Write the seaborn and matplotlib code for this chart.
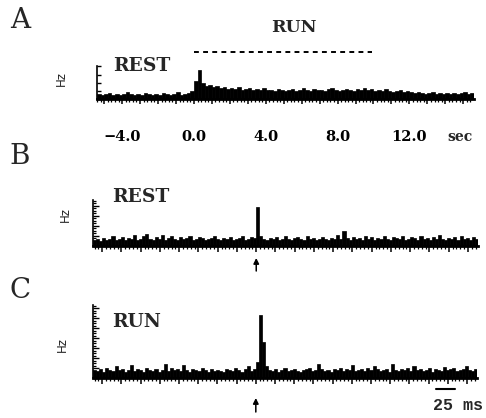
import numpy as np
import pandas as pd
import matplotlib
matplotlib.use("Agg")
import matplotlib.pyplot as plt
import seaborn as sns

# ---------------- data ----------------
panel_letters = ["A", "B", "C"]
cond_labels = ["REST", "REST", "RUN"]
run_label = "RUN"
a_tick_values = [-4.0, 0.0, 4.0, 8.0, 12.0]
a_tick_labels = ["\u22124.0", "0.0", "4.0", "8.0", "12.0"]
a_unit = "sec"
scale_label = "25 ms"

# Panel A: peri-event rate histogram, 0.2 s bins from -5.4 to 15.6 s
a_start, a_bin = -5.4, 0.2
rate_a = [5, 4, 5, 6, 4, 5, 4, 5, 7, 5, 4, 5, 4, 6, 5, 4, 5, 4, 6, 5, 4, 5, 7, 4, 5, 6, 8,
          18, 29, 16, 13, 14, 12, 13, 11, 12, 10,
          11, 10, 12, 9, 10, 11, 9, 10, 9, 11, 9,
          9, 8, 10, 9, 8, 9, 10, 8, 9, 11, 9, 8, 10, 9, 9, 8, 10, 11, 9, 8, 9, 10, 9, 8, 10, 9, 11, 9, 10, 8,
          9, 8, 10, 8, 7, 8, 9, 7, 8, 7,
          6, 7, 6, 5, 6, 7, 5, 6, 5, 6, 5, 6, 5, 6, 7, 5, 6]

# Panels B, C: cross-correlograms, 4 ms bins from -212 to 288 ms
bc_start, bc_bin = -212.0, 4.0
rate_b = [6, 7, 5, 8, 6, 7, 10, 6, 7, 9, 6, 8, 7, 11, 6, 7, 10, 12, 7, 6,
          9, 7, 11, 6, 8, 10, 7, 6, 9, 7, 8, 10, 6, 7, 9, 8, 6, 7, 8, 10,
          7, 6, 8, 7, 9, 6, 7, 8, 10, 6, 7, 9, 8,
          39, 10,
          7, 6, 8, 7, 9, 6, 7, 10, 7, 6, 8, 9, 7, 6, 10, 7, 8, 6, 7, 9,
          7, 6, 8, 7, 11, 7, 15, 8, 6, 9, 7, 8, 6, 10, 7, 9, 6, 8, 7, 10,
          7, 6, 9, 8, 7, 10, 6, 7, 9, 8, 6, 10, 7, 8, 6, 9, 7, 11, 7, 6,
          8, 7, 9, 6, 10, 7, 8, 6, 9, 7]
rate_c = [8, 7, 9, 6, 10, 8, 7, 12, 8, 9, 6, 8, 13, 7, 9, 8, 6, 10, 8, 7,
          9, 6, 8, 14, 7, 10, 8, 9, 7, 13, 8, 6, 9, 8, 7, 10, 8, 6, 9, 7,
          8, 7, 6, 9, 8, 7, 10, 8, 6, 9, 12, 7, 9,
          16, 63, 36, 12,
          8, 7, 9, 6, 8, 10, 7, 8, 9, 7, 6, 8, 9, 10, 7, 8, 14, 9, 7, 8,
          6, 9, 8, 10, 7, 9, 8, 13, 7, 8, 9, 7, 10, 8, 12, 9, 7, 8, 9, 6,
          14, 8, 7, 9, 8, 10, 7, 12, 8, 9, 7, 8, 10, 6, 9, 8, 7, 11, 8, 9,
          10, 7, 8, 9, 12, 8, 7, 9]

# ---------------- figure ----------------
sns.set_style("ticks")
plt.rcParams["font.family"] = ["DejaVu Serif", "DejaVu Sans"]
plt.rcParams["xtick.color"] = "black"
plt.rcParams["ytick.color"] = "black"

W, H = 486, 418
fig = plt.figure(figsize=(W / 100, H / 100), dpi=100)


def rect(l, r, top, bottom):
    return [l / W, 1 - bottom / H, (r - l) / W, (bottom - top) / H]


def fpos(x, y):
    return x / W, 1 - y / H


def hist(ax, start, binw, vals):
    n = len(vals)
    lo, hi = start, start + binw * n
    centers = start + binw * (np.arange(n) + 0.5)
    df = pd.DataFrame({"t": centers, "rate": np.asarray(vals, dtype=float)})
    sns.histplot(data=df, x="t", weights="rate", binwidth=binw, binrange=(lo, hi),
                 color="black", edgecolor="black", linewidth=0.5, alpha=1, ax=ax)
    ax.set_xlim(lo, hi)
    ax.set_xlabel("")
    ax.set_ylabel("")
    for s in ["top", "right"]:
        ax.spines[s].set_visible(False)
    ax.spines["bottom"].set_linewidth(2.0)
    ax.spines["left"].set_linewidth(1.2)
    for s in ["bottom", "left"]:
        ax.spines[s].set_color("black")
    ax.tick_params(bottom=True, left=True, which="both")


# Panel A
axA = fig.add_axes(rect(97, 474, 55, 99))
hist(axA, a_start, a_bin, rate_a)
axA.set_ylim(0, 44)
axA.spines["left"].set_bounds(0, 33)
axA.set_yticks([0, 8, 16, 24, 33])
axA.set_yticklabels([])
axA.tick_params(axis="y", direction="in", length=3, width=1)
majA = np.arange(-5, 16, 1.0)
axA.set_xticks(majA)
axA.set_xticklabels([a_tick_labels[a_tick_values.index(v)] if v in a_tick_values else ""
                     for v in majA], fontweight="bold", fontsize=10.5)
axA.set_xticks(np.arange(-5.4, 15.6, 0.2), minor=True)
axA.tick_params(axis="x", which="major", direction="out", length=3.5, width=1.1, pad=19)
axA.tick_params(axis="x", which="minor", direction="out", length=1.8, width=0.9)
axA.plot([0, 9.9], [47, 47], color="black", lw=1.4, ls=(0, (2.5, 2.2)), clip_on=False)

# Panels B, C
axB = fig.add_axes(rect(93, 478, 198, 246))
hist(axB, bc_start, bc_bin, rate_b)
axB.set_ylim(0, 48)
axB.spines["left"].set_bounds(0, 46)

axC = fig.add_axes(rect(93, 477, 300, 378))
hist(axC, bc_start, bc_bin, rate_c)
axC.set_ylim(0, 78)
axC.spines["left"].set_bounds(0, 73)

for ax, top in [(axB, 46), (axC, 73)]:
    ax.set_yticks(np.arange(0, top + 0.1, 10))
    ax.set_yticks(np.arange(0, top + 0.1, 2.5), minor=True)
    ax.set_yticklabels([])
    ax.tick_params(axis="y", which="major", direction="in", length=4, width=1)
    ax.tick_params(axis="y", which="minor", direction="in", length=2.2, width=0.9)
    ax.set_xticks(np.arange(-200, 289, 25))
    ax.set_xticks(np.arange(-210, 289, 5), minor=True)
    ax.set_xticklabels([])
    ax.tick_params(axis="x", which="major", direction="out", length=4, width=1.1)
    ax.tick_params(axis="x", which="minor", direction="out", length=2, width=0.9)

arrow_style = dict(arrowstyle="-|>", color="black", lw=1.1, mutation_scale=8,
                   shrinkA=0, shrinkB=0)
axB.annotate("", xy=(0, -12), xytext=(0, -25), annotation_clip=False, arrowprops=arrow_style)
axC.annotate("", xy=(0, -20), xytext=(0, -34), annotation_clip=False, arrowprops=arrow_style)
axC.plot([235, 260], [-11, -11], color="black", lw=1.5, clip_on=False)

# ---------------- text ----------------
for letter, y in zip(panel_letters, [20, 156, 291]):
    fig.text(*fpos(20, y), letter, fontsize=20, ha="center", va="center")

fig.text(*fpos(294, 27), run_label, fontsize=12.5, fontweight="bold", ha="center", va="center")
for lab, (x, y) in zip(cond_labels, [(142, 66), (141, 197), (137, 322)]):
    fig.text(*fpos(x, y), lab, fontsize=13.5, fontweight="bold", ha="center", va="center")

for x, y in [(61, 78), (65, 214), (62, 344)]:
    fig.text(*fpos(x, y), "Hz", fontsize=8.5, rotation=90, ha="center", va="center",
             family="DejaVu Sans")

fig.text(*fpos(460, 137), a_unit, fontsize=10, fontweight="bold", ha="center", va="center")
fig.text(*fpos(458, 406), scale_label, fontsize=12, fontweight="bold", ha="center",
         va="center", family=["Liberation Mono", "DejaVu Sans Mono"])

fig.savefig("out.png", dpi=100, facecolor="white")
